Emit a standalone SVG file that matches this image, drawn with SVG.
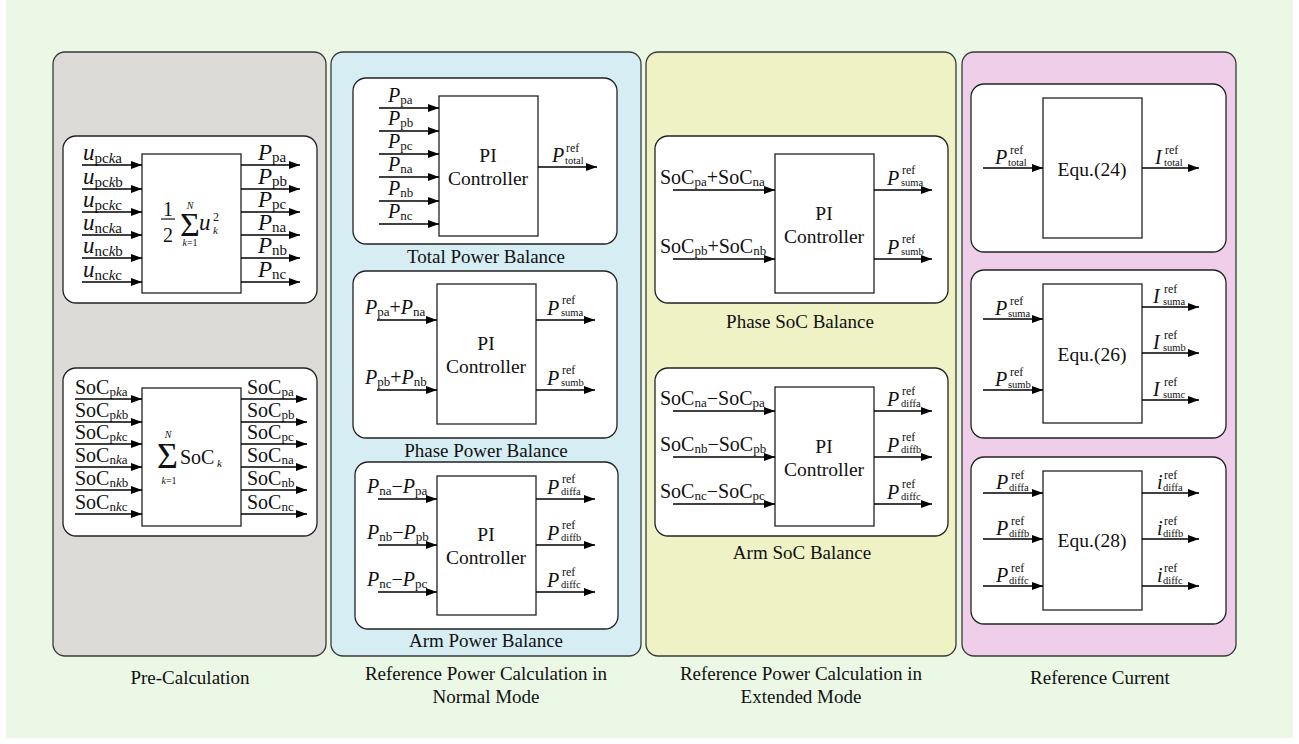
<svg xmlns="http://www.w3.org/2000/svg" width="1299" height="744" viewBox="0 0 1299 744">
  <defs>
    <marker id="ah" markerUnits="userSpaceOnUse" markerWidth="11" markerHeight="8" refX="11" refY="4" orient="auto">
      <path d="M0,0 L11,4 L0,8 z" fill="#000"/>
    </marker>
    <style>
      text { font-family: "Liberation Serif", "Times New Roman", serif; fill: #111; }
      .panel { stroke: #3a3a3a; stroke-width: 1.3; }
      .card { fill: #fff; stroke: #222; stroke-width: 1.3; }
      .blk { fill: #fff; stroke: #222; stroke-width: 1.3; }
      .ln { stroke: #000; stroke-width: 1.4; fill: none; marker-end: url(#ah); }
      .v { font-size: 20px; font-style: italic; }
      .r { font-size: 20px; font-style: normal; }
      .s { font-size: 13px; font-style: normal; }
      .si { font-size: 13px; font-style: italic; }
      .v2 { font-size: 23px; font-style: italic; }
      .s2 { font-size: 15px; font-style: normal; }
      .si2 { font-size: 15px; font-style: italic; }
      .sup { font-size: 12px; }
      .sub { font-size: 10.5px; }
      .mid { font-size: 19.5px; text-anchor: middle; }
      .cap { font-size: 19px; text-anchor: middle; }
      .pcap { font-size: 19px; text-anchor: middle; }
      .lim { font-size: 10px; text-anchor: middle; }
    </style>
  </defs>

  <!-- background -->
  <rect x="6" y="0" width="1287" height="738" fill="#EAF8E5"/>

  <!-- stage panels -->
  <g id="panel-pre">
    <rect class="panel" x="53" y="52" width="273" height="604" rx="12" fill="#DCDBD7"/>
    <text class="pcap" x="190" y="684">Pre-Calculation</text>
  </g>
  <g id="panel-normal">
    <rect class="panel" x="331" y="52" width="310" height="604" rx="12" fill="#D6EEF3"/>
    <text class="pcap" x="486" y="680">Reference Power Calculation in</text>
    <text class="pcap" x="486" y="703">Normal Mode</text>
  </g>
  <g id="panel-extended">
    <rect class="panel" x="646" y="52" width="310" height="604" rx="12" fill="#EEF2C4"/>
    <text class="pcap" x="801" y="680">Reference Power Calculation in</text>
    <text class="pcap" x="801" y="703">Extended Mode</text>
  </g>
  <g id="panel-current">
    <rect class="panel" x="962" y="52" width="274" height="604" rx="12" fill="#EFCEEA"/>
    <text class="pcap" x="1100" y="684">Reference Current</text>
  </g>

  <!-- Pre-calculation: squared voltage sum -->
  <g id="node-usum">
    <rect class="card" x="63" y="136" width="254" height="167" rx="13"/>
    <rect class="blk" x="142" y="154" width="99" height="139"/>
    <text x="168" y="216" class="r" text-anchor="middle">1</text>
    <line x1="161" y1="219" x2="175" y2="219" stroke="#111" stroke-width="1.2"/>
    <text x="168" y="242" class="r" text-anchor="middle">2</text>
    <text x="180" y="236" style="font-size:34px">Σ</text>
    <text class="lim" x="190" y="209" font-style="italic">N</text>
    <text class="lim" x="190" y="246"><tspan font-style="italic">k</tspan>=1</text>
    <text x="199" y="230" class="v2">u</text>
    <text x="213" y="221" style="font-size:12px">2</text>
    <text x="213" y="234" style="font-size:11px;font-style:italic">k</text>
    <text x="83" y="160"><tspan class="v2">u</tspan><tspan class="s2" dy="3">pc</tspan><tspan class="si2">k</tspan><tspan class="s2">a</tspan></text>
    <text x="83" y="184"><tspan class="v2">u</tspan><tspan class="s2" dy="3">pc</tspan><tspan class="si2">k</tspan><tspan class="s2">b</tspan></text>
    <text x="83" y="207"><tspan class="v2">u</tspan><tspan class="s2" dy="3">pc</tspan><tspan class="si2">k</tspan><tspan class="s2">c</tspan></text>
    <text x="83" y="230"><tspan class="v2">u</tspan><tspan class="s2" dy="3">nc</tspan><tspan class="si2">k</tspan><tspan class="s2">a</tspan></text>
    <text x="83" y="253"><tspan class="v2">u</tspan><tspan class="s2" dy="3">nc</tspan><tspan class="si2">k</tspan><tspan class="s2">b</tspan></text>
    <text x="83" y="277"><tspan class="v2">u</tspan><tspan class="s2" dy="3">nc</tspan><tspan class="si2">k</tspan><tspan class="s2">c</tspan></text>
    <text x="258" y="160"><tspan class="v2">P</tspan><tspan class="s2" dy="2">pa</tspan></text>
    <text x="258" y="184"><tspan class="v2">P</tspan><tspan class="s2" dy="2">pb</tspan></text>
    <text x="258" y="207"><tspan class="v2">P</tspan><tspan class="s2" dy="2">pc</tspan></text>
    <text x="258" y="230"><tspan class="v2">P</tspan><tspan class="s2" dy="2">na</tspan></text>
    <text x="258" y="253"><tspan class="v2">P</tspan><tspan class="s2" dy="2">nb</tspan></text>
    <text x="258" y="277"><tspan class="v2">P</tspan><tspan class="s2" dy="2">nc</tspan></text>
  </g>

  <!-- Pre-calculation: SoC sum -->
  <g id="node-socsum">
    <rect class="card" x="63" y="368" width="254" height="168" rx="13"/>
    <rect class="blk" x="142" y="388" width="99" height="138"/>
    <text x="157" y="468" style="font-size:36px">Σ</text>
    <text class="lim" x="168" y="438" font-style="italic">N</text>
    <text class="lim" x="169" y="484"><tspan font-style="italic">k</tspan>=1</text>
    <text x="180" y="464" class="r">SoC</text>
    <text x="217" y="467" style="font-size:11px;font-style:italic">k</text>
    <text x="75" y="394"><tspan class="r">SoC</tspan><tspan class="s" dy="2">p</tspan><tspan class="si">k</tspan><tspan class="s">a</tspan></text>
    <text x="75" y="417"><tspan class="r">SoC</tspan><tspan class="s" dy="2">p</tspan><tspan class="si">k</tspan><tspan class="s">b</tspan></text>
    <text x="75" y="439"><tspan class="r">SoC</tspan><tspan class="s" dy="2">p</tspan><tspan class="si">k</tspan><tspan class="s">c</tspan></text>
    <text x="75" y="462"><tspan class="r">SoC</tspan><tspan class="s" dy="2">n</tspan><tspan class="si">k</tspan><tspan class="s">a</tspan></text>
    <text x="75" y="485"><tspan class="r">SoC</tspan><tspan class="s" dy="2">n</tspan><tspan class="si">k</tspan><tspan class="s">b</tspan></text>
    <text x="75" y="509"><tspan class="r">SoC</tspan><tspan class="s" dy="2">n</tspan><tspan class="si">k</tspan><tspan class="s">c</tspan></text>
    <text x="247" y="394"><tspan class="r">SoC</tspan><tspan class="s" dy="2">pa</tspan></text>
    <text x="247" y="417"><tspan class="r">SoC</tspan><tspan class="s" dy="2">pb</tspan></text>
    <text x="247" y="439"><tspan class="r">SoC</tspan><tspan class="s" dy="2">pc</tspan></text>
    <text x="247" y="462"><tspan class="r">SoC</tspan><tspan class="s" dy="2">na</tspan></text>
    <text x="247" y="485"><tspan class="r">SoC</tspan><tspan class="s" dy="2">nb</tspan></text>
    <text x="247" y="509"><tspan class="r">SoC</tspan><tspan class="s" dy="2">nc</tspan></text>
  </g>

  <!-- Normal mode: total power balance -->
  <g id="node-total-power">
    <rect class="card" x="353" y="78" width="264" height="166" rx="13"/>
    <rect class="blk" x="439" y="96" width="99" height="140"/>
    <text class="mid" x="488" y="162">PI</text>
    <text class="mid" x="488" y="185">Controller</text>
    <text class="cap" x="486" y="263">Total Power Balance</text>
    <text x="388" y="102"><tspan class="v">P</tspan><tspan class="s" dy="2">pa</tspan></text>
    <text x="388" y="125"><tspan class="v">P</tspan><tspan class="s" dy="2">pb</tspan></text>
    <text x="388" y="148"><tspan class="v">P</tspan><tspan class="s" dy="2">pc</tspan></text>
    <text x="388" y="171"><tspan class="v">P</tspan><tspan class="s" dy="2">na</tspan></text>
    <text x="388" y="195"><tspan class="v">P</tspan><tspan class="s" dy="2">nb</tspan></text>
    <text x="388" y="218"><tspan class="v">P</tspan><tspan class="s" dy="2">nc</tspan></text>
    <text x="552" y="162" class="v">P</text>
    <text x="566" y="152" class="sup">ref</text>
    <text x="565" y="164" class="sub">total</text>
  </g>

  <!-- Normal mode: phase power balance -->
  <g id="node-phase-power">
    <rect class="card" x="353" y="271" width="264" height="167" rx="13"/>
    <rect class="blk" x="437" y="284" width="99" height="140"/>
    <text class="mid" x="486" y="350">PI</text>
    <text class="mid" x="486" y="373">Controller</text>
    <text class="cap" x="486" y="457">Phase Power Balance</text>
    <text x="365" y="314"><tspan class="v">P</tspan><tspan class="s" dy="2">pa</tspan><tspan class="r" dy="-2">+</tspan><tspan class="v">P</tspan><tspan class="s" dy="2">na</tspan></text>
    <text x="365" y="384"><tspan class="v">P</tspan><tspan class="s" dy="2">pb</tspan><tspan class="r" dy="-2">+</tspan><tspan class="v">P</tspan><tspan class="s" dy="2">nb</tspan></text>
    <text x="547" y="315" class="v">P</text>
    <text x="562" y="304" class="sup">ref</text>
    <text x="561" y="316" class="sub">suma</text>
    <text x="547" y="385" class="v">P</text>
    <text x="562" y="374" class="sup">ref</text>
    <text x="561" y="386" class="sub">sumb</text>
  </g>

  <!-- Normal mode: arm power balance -->
  <g id="node-arm-power">
    <rect class="card" x="355" y="462" width="263" height="167" rx="13"/>
    <rect class="blk" x="437" y="476" width="99" height="139"/>
    <text class="mid" x="486" y="541">PI</text>
    <text class="mid" x="486" y="564">Controller</text>
    <text class="cap" x="486" y="647">Arm Power Balance</text>
    <text x="367" y="493"><tspan class="v">P</tspan><tspan class="s" dy="2">na</tspan><tspan class="r" dy="-2">−</tspan><tspan class="v">P</tspan><tspan class="s" dy="2">pa</tspan></text>
    <text x="367" y="539"><tspan class="v">P</tspan><tspan class="s" dy="2">nb</tspan><tspan class="r" dy="-2">−</tspan><tspan class="v">P</tspan><tspan class="s" dy="2">pb</tspan></text>
    <text x="367" y="586"><tspan class="v">P</tspan><tspan class="s" dy="2">nc</tspan><tspan class="r" dy="-2">−</tspan><tspan class="v">P</tspan><tspan class="s" dy="2">pc</tspan></text>
    <text x="547" y="494" class="v">P</text>
    <text x="562" y="483" class="sup">ref</text>
    <text x="561" y="495" class="sub">diffa</text>
    <text x="547" y="540" class="v">P</text>
    <text x="562" y="529" class="sup">ref</text>
    <text x="561" y="541" class="sub">diffb</text>
    <text x="547" y="587" class="v">P</text>
    <text x="562" y="576" class="sup">ref</text>
    <text x="561" y="588" class="sub">diffc</text>
  </g>

  <!-- Extended mode: phase SoC balance -->
  <g id="node-phase-soc">
    <rect class="card" x="655" y="136" width="293" height="167" rx="13"/>
    <rect class="blk" x="775" y="154" width="99" height="139"/>
    <text class="mid" x="824" y="220">PI</text>
    <text class="mid" x="824" y="243">Controller</text>
    <text class="cap" x="800" y="328">Phase SoC Balance</text>
    <text x="660" y="184"><tspan class="r">SoC</tspan><tspan class="s" dy="2">pa</tspan><tspan class="r" dy="-2">+SoC</tspan><tspan class="s" dy="2">na</tspan></text>
    <text x="660" y="253"><tspan class="r">SoC</tspan><tspan class="s" dy="2">pb</tspan><tspan class="r" dy="-2">+SoC</tspan><tspan class="s" dy="2">nb</tspan></text>
    <text x="887" y="185" class="v">P</text>
    <text x="902" y="174" class="sup">ref</text>
    <text x="901" y="186" class="sub">suma</text>
    <text x="887" y="254" class="v">P</text>
    <text x="902" y="243" class="sup">ref</text>
    <text x="901" y="255" class="sub">sumb</text>
  </g>

  <!-- Extended mode: arm SoC balance -->
  <g id="node-arm-soc">
    <rect class="card" x="655" y="368" width="293" height="168" rx="13"/>
    <rect class="blk" x="775" y="387" width="99" height="139"/>
    <text class="mid" x="824" y="453">PI</text>
    <text class="mid" x="824" y="476">Controller</text>
    <text class="cap" x="802" y="559">Arm SoC Balance</text>
    <text x="660" y="405"><tspan class="r">SoC</tspan><tspan class="s" dy="2">na</tspan><tspan class="r" dy="-2">−SoC</tspan><tspan class="s" dy="2">pa</tspan></text>
    <text x="660" y="451"><tspan class="r">SoC</tspan><tspan class="s" dy="2">nb</tspan><tspan class="r" dy="-2">−SoC</tspan><tspan class="s" dy="2">pb</tspan></text>
    <text x="660" y="498"><tspan class="r">SoC</tspan><tspan class="s" dy="2">nc</tspan><tspan class="r" dy="-2">−SoC</tspan><tspan class="s" dy="2">pc</tspan></text>
    <text x="887" y="406" class="v">P</text>
    <text x="902" y="395" class="sup">ref</text>
    <text x="901" y="407" class="sub">diffa</text>
    <text x="887" y="452" class="v">P</text>
    <text x="902" y="441" class="sup">ref</text>
    <text x="901" y="453" class="sub">diffb</text>
    <text x="887" y="499" class="v">P</text>
    <text x="902" y="488" class="sup">ref</text>
    <text x="901" y="500" class="sub">diffc</text>
  </g>

  <!-- Reference current: total -->
  <g id="node-eq24">
    <rect class="card" x="971" y="84" width="255" height="168" rx="13"/>
    <rect class="blk" x="1043" y="98" width="99" height="140"/>
    <text class="mid" x="1092" y="176">Equ.(24)</text>
    <text x="995" y="164" class="v">P</text>
    <text x="1010" y="154" class="sup">ref</text>
    <text x="1008" y="165.5" class="sub">total</text>
    <text x="1155" y="164" class="v">I</text>
    <text x="1165" y="154" class="sup">ref</text>
    <text x="1164" y="165.5" class="sub">total</text>
  </g>

  <!-- Reference current: sum components -->
  <g id="node-eq26">
    <rect class="card" x="971" y="270" width="255" height="168" rx="13"/>
    <rect class="blk" x="1043" y="284" width="99" height="139"/>
    <text class="mid" x="1092" y="361">Equ.(26)</text>
    <text x="995" y="315" class="v">P</text>
    <text x="1010" y="305" class="sup">ref</text>
    <text x="1008" y="316.5" class="sub">suma</text>
    <text x="995" y="386" class="v">P</text>
    <text x="1010" y="376" class="sup">ref</text>
    <text x="1008" y="387.5" class="sub">sumb</text>
    <text x="1153" y="303" class="v">I</text>
    <text x="1164" y="293" class="sup">ref</text>
    <text x="1163" y="304.5" class="sub">suma</text>
    <text x="1153" y="349" class="v">I</text>
    <text x="1164" y="339" class="sup">ref</text>
    <text x="1163" y="350.5" class="sub">sumb</text>
    <text x="1153" y="396" class="v">I</text>
    <text x="1164" y="386" class="sup">ref</text>
    <text x="1163" y="397.5" class="sub">sumc</text>
  </g>

  <!-- Reference current: differential components -->
  <g id="node-eq28">
    <rect class="card" x="971" y="457" width="255" height="167" rx="13"/>
    <rect class="blk" x="1043" y="471" width="99" height="139"/>
    <text class="mid" x="1092" y="547">Equ.(28)</text>
    <text x="996" y="489" class="v">P</text>
    <text x="1011" y="479" class="sup">ref</text>
    <text x="1009" y="490.5" class="sub">diffa</text>
    <text x="996" y="535" class="v">P</text>
    <text x="1011" y="525" class="sup">ref</text>
    <text x="1009" y="536.5" class="sub">diffb</text>
    <text x="996" y="582" class="v">P</text>
    <text x="1011" y="572" class="sup">ref</text>
    <text x="1009" y="583.5" class="sub">diffc</text>
    <text x="1157" y="489" class="v">i</text>
    <text x="1164" y="479" class="sup">ref</text>
    <text x="1163" y="490.5" class="sub">diffa</text>
    <text x="1157" y="535" class="v">i</text>
    <text x="1164" y="525" class="sup">ref</text>
    <text x="1163" y="536.5" class="sub">diffb</text>
    <text x="1157" y="582" class="v">i</text>
    <text x="1164" y="572" class="sup">ref</text>
    <text x="1163" y="583.5" class="sub">diffc</text>
  </g>

  <!-- signal arrows -->
  <g id="connectors">
    <!-- squared voltage sum -->
    <path class="ln" d="M82,165H142"/><path class="ln" d="M82,189H142"/><path class="ln" d="M82,212H142"/>
    <path class="ln" d="M82,235H142"/><path class="ln" d="M82,258H142"/><path class="ln" d="M82,282H142"/>
    <path class="ln" d="M241,165H300"/><path class="ln" d="M241,189H300"/><path class="ln" d="M241,212H300"/>
    <path class="ln" d="M241,235H300"/><path class="ln" d="M241,258H300"/><path class="ln" d="M241,282H300"/>
    <!-- SoC sum -->
    <path class="ln" d="M75,399H142"/><path class="ln" d="M75,422H142"/><path class="ln" d="M75,444H142"/>
    <path class="ln" d="M75,467H142"/><path class="ln" d="M75,490H142"/><path class="ln" d="M75,514H142"/>
    <path class="ln" d="M241,399H307"/><path class="ln" d="M241,422H307"/><path class="ln" d="M241,444H307"/>
    <path class="ln" d="M241,467H307"/><path class="ln" d="M241,490H307"/><path class="ln" d="M241,514H307"/>
    <!-- total power -->
    <path class="ln" d="M379,108H439"/><path class="ln" d="M379,131H439"/><path class="ln" d="M379,154H439"/>
    <path class="ln" d="M379,177H439"/><path class="ln" d="M379,201H439"/><path class="ln" d="M379,224H439"/>
    <path class="ln" d="M538,167H597"/>
    <!-- phase power -->
    <path class="ln" d="M377,320H437"/><path class="ln" d="M377,390H437"/>
    <path class="ln" d="M536,320H595"/><path class="ln" d="M536,390H595"/>
    <!-- arm power -->
    <path class="ln" d="M378,499H437"/><path class="ln" d="M378,545H437"/><path class="ln" d="M378,592H437"/>
    <path class="ln" d="M536,499H595"/><path class="ln" d="M536,545H595"/><path class="ln" d="M536,592H595"/>
    <!-- phase SoC -->
    <path class="ln" d="M673,190H775"/><path class="ln" d="M673,259H775"/>
    <path class="ln" d="M874,190H932"/><path class="ln" d="M874,259H932"/>
    <!-- arm SoC -->
    <path class="ln" d="M673,411H775"/><path class="ln" d="M673,457H775"/><path class="ln" d="M673,504H775"/>
    <path class="ln" d="M874,411H932"/><path class="ln" d="M874,457H932"/><path class="ln" d="M874,504H932"/>
    <!-- Equ.(24) -->
    <path class="ln" d="M983,168H1043"/><path class="ln" d="M1142,168H1199"/>
    <!-- Equ.(26) -->
    <path class="ln" d="M983,319H1043"/><path class="ln" d="M983,390H1043"/>
    <path class="ln" d="M1142,307H1199"/><path class="ln" d="M1142,353H1199"/><path class="ln" d="M1142,400H1199"/>
    <!-- Equ.(28) -->
    <path class="ln" d="M983,493H1043"/><path class="ln" d="M983,539H1043"/><path class="ln" d="M983,586H1043"/>
    <path class="ln" d="M1142,493H1199"/><path class="ln" d="M1142,539H1199"/><path class="ln" d="M1142,586H1199"/>
  </g>
</svg>
